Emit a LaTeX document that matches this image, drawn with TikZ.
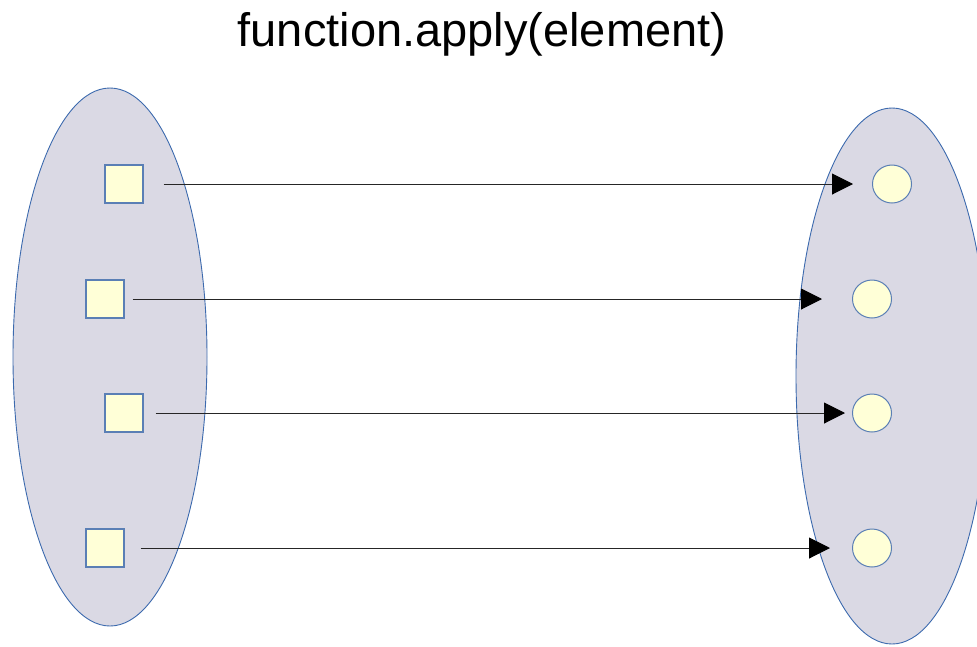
\documentclass[tikz,border=0pt]{standalone}
\usepackage{fontspec}
\setmainfont{Liberation Sans}
\usetikzlibrary{arrows.meta}
\usetikzlibrary{shapes.geometric}
\definecolor{setfill}{HTML}{DAD9E4}
\definecolor{setline}{HTML}{3C6AAE}
\definecolor{elemfill}{HTML}{FFFFD7}
\definecolor{elemline}{HTML}{5A7FB5}
\tikzset{
  setshape/.style={draw=setline, fill=setfill, line width=0.9pt},
  sqnode/.style={draw=elemline, fill=elemfill, line width=1.4pt, minimum width=38pt, minimum height=38pt, inner sep=0pt, rectangle},
  circnode/.style={draw=elemline, fill=elemfill, line width=1pt, minimum width=39pt, minimum height=38pt, inner sep=0pt, ellipse},
  maparrow/.style={draw=black!85, line width=1pt, -{Triangle[length=21pt,width=21pt,color=black,fill=black]}}
}
\begin{document}
\begin{tikzpicture}[x=1pt,y=-1pt]
\useasboundingbox (0,0) rectangle (977,646);
\clip (0,0) rectangle (977,646);
\node[anchor=base, font=\fontsize{47}{56}\selectfont, inner sep=0pt] (title) at (482,46) {function.apply(element)};
\draw[setshape] (110,357) ellipse [x radius=97, y radius=269];
\draw[setshape] (892,376) ellipse [x radius=96, y radius=268];
\node[sqnode] (s1) at (124,184) {};
\node[sqnode] (s2) at (105,299) {};
\node[sqnode] (s3) at (124,413) {};
\node[sqnode] (s4) at (105,548) {};
\node[circnode] (c1) at (892,184) {};
\node[circnode] (c2) at (872,299) {};
\node[circnode] (c3) at (872,413) {};
\node[circnode] (c4) at (872,548) {};
\draw[maparrow] ([xshift=20pt]s1.east) -- ([xshift=-19pt]c1.west);
\draw[maparrow] ([xshift=8pt]s2.east) -- ([xshift=-30pt]c2.west);
\draw[maparrow] ([xshift=12pt]s3.east) -- ([xshift=-7pt]c3.west);
\draw[maparrow] ([xshift=16pt]s4.east) -- ([xshift=-22pt]c4.west);
\end{tikzpicture}
\end{document}
